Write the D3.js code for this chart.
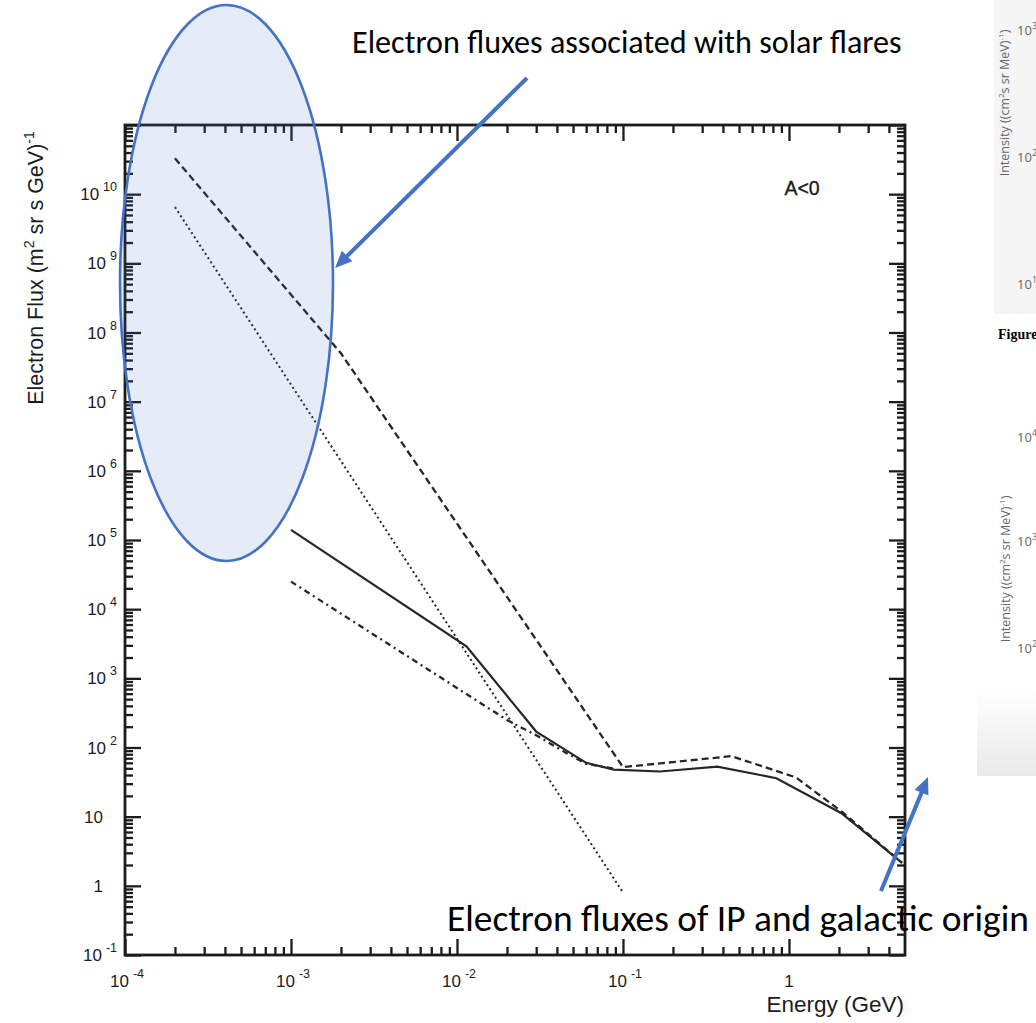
<!DOCTYPE html>
<html>
<head>
<meta charset="utf-8">
<script src="https://cdn.jsdelivr.net/npm/d3@7"></script>
<style>
  html, body { margin: 0; padding: 0; background: #fff; }
  svg { display: block; }
</style>
</head>
<body>
<svg id="chart" width="1036" height="1023"></svg>
<script>
// ---- Axis decades -------------------------------------------------------
const energyDecades = [-4, -3, -2, -1, 0];          // 10^e GeV
const fluxDecades = [-1, 0, 1, 2, 3, 4, 5, 6, 7, 8, 9, 10];

// ---- Spectra (Energy in GeV, flux in (m^2 sr s GeV)^-1) ----------------
// solid: total electron spectrum
const solidEnergy = [1e-3, 0.0114, 0.03, 0.06, 0.088, 0.167, 0.37, 0.84, 2.07, 4.8];
const solidFlux   = [1.4e5, 2.9e3, 170, 60, 48, 45, 53, 36, 11.2, 2.15];

// dashed: flare spectrum with broken power law
const dashedEnergy = [2e-4, 2e-3, 0.1, 0.45, 1.1, 2.1, 4.8];
const dashedFlux   = [3.3e10, 5e7, 52, 75, 37, 11.6, 2.15];

// dotted: single power law
const dottedEnergy = [2e-4, 0.1];
const dottedFlux   = [6.5e9, 0.8];

// dash-dot: low-energy component
const dashDotEnergy = [1e-3, 0.02, 0.03, 0.045, 0.06, 0.09];
const dashDotFlux   = [2.5e4, 250, 150, 85, 58, 49];

// ---- Layout -------------------------------------------------------------
const plot = { left: 125, right: 905, top: 125, bottom: 955 };
const svg = d3.select("#chart");

const x = d3.scaleLog().domain([1e-4, 5]).range([plot.left, plot.right]);
const y = d3.scaleLog().domain([0.1, 1e11]).range([plot.bottom, plot.top]);

const INK = "#1c1c1c";
const BLUE = "#4472C4";

// decade and 2..9 sub-decade tick positions inside a log domain
function majorTicks(scale) {
  const [a, b] = scale.domain();
  const out = [];
  for (let e = Math.floor(Math.log10(a)); e <= Math.ceil(Math.log10(b)); e++) {
    const v = Math.pow(10, e);
    if (v >= a * 0.999 && v <= b * 1.001) out.push(v);
  }
  return out;
}
function minorTicks(scale) {
  const [a, b] = scale.domain();
  const out = [];
  for (let e = Math.floor(Math.log10(a)); e <= Math.ceil(Math.log10(b)); e++) {
    for (let k = 2; k <= 9; k++) {
      const v = k * Math.pow(10, e);
      if (v > a && v < b) out.push(v);
    }
  }
  return out;
}

// ---- Axes (inward ticks on all four sides) -----------------------------
const axesG = svg.append("g").attr("class", "axes");
function addAxis(gen, transform, values, len) {
  const g = axesG.append("g")
    .attr("transform", transform)
    .call(gen.tickValues(values).tickSizeInner(-len).tickSizeOuter(0).tickFormat(""));
  g.select(".domain").remove();
  g.selectAll(".tick line").attr("stroke", INK).attr("stroke-width", 2.3);
}
const xMaj = majorTicks(x), xMin = minorTicks(x);
const yMaj = majorTicks(y), yMin = minorTicks(y);
[[xMaj, 16], [xMin, 8]].forEach(([v, l]) => {
  addAxis(d3.axisBottom(x), `translate(0,${plot.bottom})`, v, l);
  addAxis(d3.axisTop(x), `translate(0,${plot.top})`, v, l);
});
[[yMaj, 16], [yMin, 8]].forEach(([v, l]) => {
  addAxis(d3.axisLeft(y), `translate(${plot.left},0)`, v, l);
  addAxis(d3.axisRight(y), `translate(${plot.right},0)`, v, l);
});

axesG.append("rect")
  .attr("x", plot.left).attr("y", plot.top)
  .attr("width", plot.right - plot.left).attr("height", plot.bottom - plot.top)
  .attr("fill", "none").attr("stroke", INK).attr("stroke-width", 2.8);

// ---- Tick labels: 10 with superscript exponent -------------------------
const tickFont = "'Liberation Sans', Arial, Helvetica, sans-serif";
function powerLabel(sel, e) {
  if (e === 0) { sel.text("1"); return false; }
  if (e === 1) { sel.text("10"); return false; }
  sel.append("tspan").text("10");
  sel.append("tspan").attr("dx", 4).attr("dy", -9).attr("font-size", 12.5).text(String(e));
  return true;
}
const yLabels = svg.append("g").attr("font-family", tickFont).attr("font-size", 17).attr("fill", INK);
fluxDecades.forEach(e => {
  const t = yLabels.append("text").attr("y", y(Math.pow(10, e)) + 6).attr("text-anchor", "end");
  const sup = powerLabel(t, e);
  t.attr("x", sup ? 117 : 103);
});
const xLabels = svg.append("g").attr("font-family", tickFont).attr("font-size", 17).attr("fill", INK);
energyDecades.forEach(e => {
  const t = xLabels.append("text").attr("x", x(Math.pow(10, e)) + (e === 0 ? 0 : 2))
    .attr("y", 987).attr("text-anchor", "middle");
  powerLabel(t, e);
});

// ---- Axis titles --------------------------------------------------------
const yTitle = svg.append("text")
  .attr("transform", "translate(43,268) rotate(-90)")
  .attr("text-anchor", "middle")
  .attr("font-family", tickFont).attr("font-size", 21.5).attr("fill", INK);
yTitle.append("tspan").text("Electron Flux (m");
yTitle.append("tspan").attr("dy", -9).attr("font-size", 14).text("2");
yTitle.append("tspan").attr("dy", 9).text(" sr s GeV)");
yTitle.append("tspan").attr("dy", -9).attr("font-size", 14).text("-1");

svg.append("text")
  .attr("x", 904).attr("y", 1012).attr("text-anchor", "end")
  .attr("font-family", tickFont).attr("font-size", 22.5).attr("fill", INK)
  .text("Energy (GeV)");

svg.append("text")
  .attr("x", 802).attr("y", 195).attr("text-anchor", "middle")
  .attr("font-family", tickFont).attr("font-size", 19.5).attr("fill", INK)
  .attr("stroke", INK).attr("stroke-width", 0.35)
  .text("A<0");

// ---- Spectra lines ------------------------------------------------------
const line = d3.line().x(d => x(d[0])).y(d => y(d[1]));
const series = [
  { e: dottedEnergy,  f: dottedFlux,  dash: "2,3",     w: 2 },
  { e: dashDotEnergy, f: dashDotFlux, dash: "6,4,2,4", w: 2.3 },
  { e: dashedEnergy,  f: dashedFlux,  dash: "7,4",     w: 2.3 },
  { e: solidEnergy,   f: solidFlux,   dash: null,      w: 2.2 }
];
svg.append("g").selectAll("path").data(series).join("path")
  .attr("d", s => line(d3.zip(s.e, s.f)))
  .attr("fill", "none")
  .attr("stroke", "#262626")
  .attr("stroke-width", s => s.w)
  .attr("stroke-dasharray", s => s.dash);

// ---- Callouts -----------------------------------------------------------
svg.append("ellipse")
  .attr("cx", 226.5).attr("cy", 283).attr("rx", 106.5).attr("ry", 278)
  .attr("fill", BLUE).attr("fill-opacity", 0.14)
  .attr("stroke", BLUE).attr("stroke-width", 2.6);

function arrow(x1, y1, x2, y2) {
  const dx = x2 - x1, dy = y2 - y1, L = Math.hypot(dx, dy);
  const ux = dx / L, uy = dy / L, head = 17, half = 7.5;
  const bx = x2 - ux * head, by = y2 - uy * head;
  svg.append("line")
    .attr("x1", x1).attr("y1", y1).attr("x2", bx + ux * 2).attr("y2", by + uy * 2)
    .attr("stroke", BLUE).attr("stroke-width", 4);
  svg.append("path")
    .attr("d", `M${x2},${y2}L${bx - uy * half},${by + ux * half}L${bx + uy * half},${by - ux * half}Z`)
    .attr("fill", BLUE);
}
arrow(527, 78, 335, 268);
arrow(881, 891, 928, 777);

const noteFont = "Carlito, Calibri, Lato, 'Open Sans', sans-serif";
function fittedText(str, x0, yb, width) {
  const t = svg.append("text").attr("x", x0).attr("y", yb)
    .attr("font-family", noteFont).attr("font-size", 26).attr("fill", "#000").text(str);
  const len = t.node().getComputedTextLength();
  t.attr("font-size", 26 * width / len);
  return t;
}
fittedText("Electron fluxes associated with solar flares", 352, 53, 550);
fittedText("Electron fluxes of IP and galactic origin", 447, 931, 582);

// ---- Neighbouring panels at the right edge ------------------------------
const side = svg.append("g");
side.append("rect").attr("x", 994).attr("y", 0).attr("width", 42).attr("height", 314).attr("fill", "#f5f5f5");
const grad = svg.append("defs").append("linearGradient")
  .attr("id", "fade").attr("x1", 0).attr("y1", 0).attr("x2", 0).attr("y2", 1);
grad.append("stop").attr("offset", 0).attr("stop-color", "#ffffff");
grad.append("stop").attr("offset", 1).attr("stop-color", "#e9e9e9");
side.append("rect").attr("x", 977).attr("y", 690).attr("width", 59).attr("height", 86).attr("fill", "url(#fade)");

const sideFont = "'Open Sans', 'Noto Sans', sans-serif";
function sideTitle(cy, bx) {
  const t = side.append("text")
    .attr("transform", `translate(${bx},${cy}) rotate(-90)`)
    .attr("text-anchor", "middle").attr("font-family", sideFont)
    .attr("font-size", 12.5).attr("fill", "#666");
  t.append("tspan").text("Intensity ((cm");
  t.append("tspan").attr("dy", -5).attr("font-size", 8).text("2");
  t.append("tspan").attr("dy", 5).text("s sr MeV)");
  t.append("tspan").attr("dy", -5).attr("font-size", 8).text("-1");
  t.append("tspan").attr("dy", 5).text(")");
}
sideTitle(103, 1009);
sideTitle(569, 1010);

function sideTick(yc, exp) {
  const t = side.append("text").attr("x", 1017).attr("y", yc + 5)
    .attr("font-family", sideFont).attr("font-size", 13).attr("fill", "#666");
  t.append("tspan").text("10");
  t.append("tspan").attr("dy", -6).attr("font-size", 9).text(exp);
}
[[30, "3"], [157, "2"], [284, "1"], [437, "4"], [541, "3"], [648, "2"]].forEach(d => sideTick(d[0], d[1]));

side.append("text").attr("x", 998).attr("y", 339)
  .attr("font-family", "'Liberation Serif', 'Times New Roman', serif")
  .attr("font-weight", "bold").attr("font-size", 14).attr("fill", "#000")
  .text("Figure");
</script>
</body>
</html>
